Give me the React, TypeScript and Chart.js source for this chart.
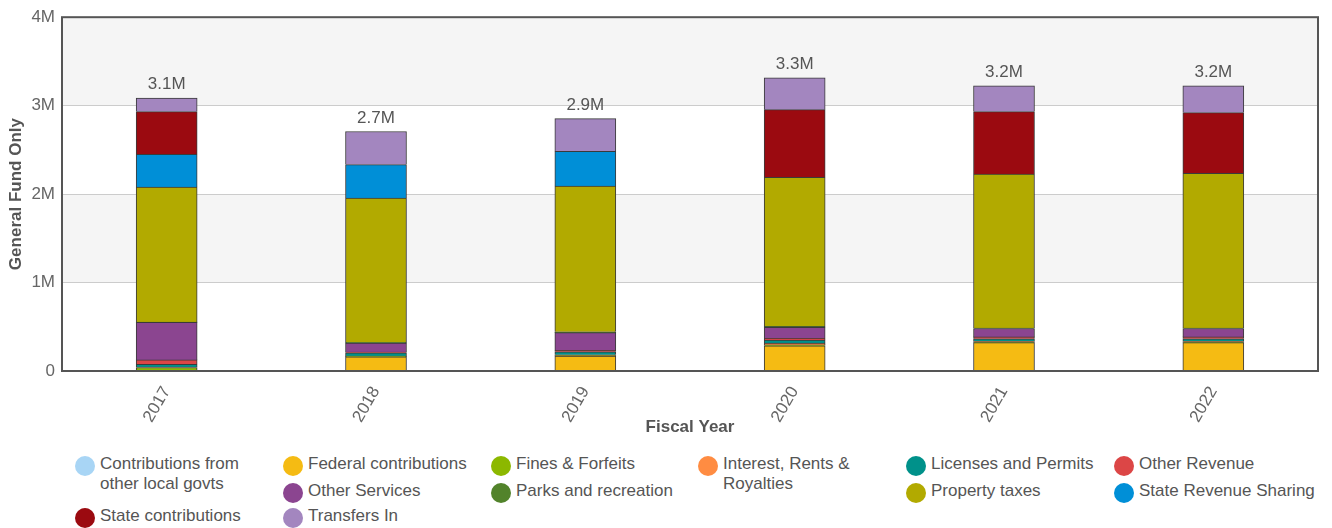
import React, { useEffect, useRef } from "react";
import { Chart, registerables } from "chart.js";

Chart.register(...registerables);

// ---------- DATA ----------
const years = ["2017", "2018", "2019", "2020", "2021", "2022"];

const contribLocal = [0, 0, 0, 0, 0, 0];
const federal = [0, 160000, 168000, 285000, 320000, 320000];
const fines = [40000, 5000, 5000, 10000, 10000, 10000];
const interest = [5000, 5000, 10000, 20000, 5000, 5000];
const licenses = [30000, 35000, 35000, 35000, 30000, 30000];
const otherRevenue = [50000, 10000, 15000, 20000, 20000, 20000];
const otherServices = [424000, 100000, 200000, 125000, 95000, 95000];
const parks = [5000, 10000, 10000, 10000, 5000, 5000];
const propertyTaxes = [1525000, 1630000, 1647000, 1685000, 1740000, 1751000];
const stateRevenueSharing = [371000, 379000, 393000, 0, 0, 0];
const stateContributions = [483000, 0, 0, 765000, 708000, 686000];
const transfersIn = [153000, 374000, 371000, 360000, 292000, 303000];

const seriesNames = [
  "Contributions from other local govts",
  "Federal contributions",
  "Fines & Forfeits",
  "Interest, Rents & Royalties",
  "Licenses and Permits",
  "Other Revenue",
  "Other Services",
  "Parks and recreation",
  "Property taxes",
  "State Revenue Sharing",
  "State contributions",
  "Transfers In",
];
const seriesValues = [
  contribLocal,
  federal,
  fines,
  interest,
  licenses,
  otherRevenue,
  otherServices,
  parks,
  propertyTaxes,
  stateRevenueSharing,
  stateContributions,
  transfersIn,
];
const seriesColors = [
  "#a8d5f5",
  "#f5bb13",
  "#8cb800",
  "#ff8c42",
  "#00918a",
  "#dc4646",
  "#8b4590",
  "#52832b",
  "#b2aa00",
  "#008fd7",
  "#9b0a10",
  "#a386bf",
];

const yTickValues = [0, 1000000, 2000000, 3000000, 4000000];
const yTickLabels = ["0", "1M", "2M", "3M", "4M"];

// ---------- STYLE ----------
const FONT = "'Liberation Sans', Arial, sans-serif";
const FS = 17;
const TEXT = "#555555";

// legend placement (column index, row top in px)
const legendPlacement: [number, number][] = [
  [0, 452],
  [1, 452],
  [2, 452],
  [3, 452],
  [4, 452],
  [5, 452],
  [1, 479],
  [2, 479],
  [4, 479],
  [5, 479],
  [0, 504],
  [1, 504],
];

function wrapLabel(text: string): string[] {
  if (text.length <= 22) return [text];
  const words = text.split(" ");
  const lines: string[] = [];
  let cur = "";
  for (const w of words) {
    const next = cur ? cur + " " + w : w;
    if (next.length > 18 && cur) {
      lines.push(cur);
      cur = w;
    } else cur = next;
  }
  if (cur) lines.push(cur);
  return lines;
}

const bandsPlugin = {
  id: "bands",
  beforeDraw(chart: any) {
    const { ctx, chartArea: a, scales } = chart;
    const y = scales.y;
    ctx.save();
    ctx.fillStyle = "#f5f5f5";
    const bands = [
      [yTickValues[1], yTickValues[2]],
      [yTickValues[3], yTickValues[4]],
    ];
    for (const [lo, hi] of bands) {
      const top = y.getPixelForValue(hi);
      const bot = y.getPixelForValue(lo);
      ctx.fillRect(a.left, top, a.right - a.left, bot - top);
    }
    ctx.restore();
  },
  afterDatasetsDraw(chart: any) {
    const { ctx, chartArea: a, scales } = chart;
    const x = scales.x;
    const y = scales.y;
    ctx.save();
    // totals
    ctx.font = `${FS}px ${FONT}`;
    ctx.fillStyle = TEXT;
    ctx.textAlign = "center";
    ctx.textBaseline = "bottom";
    years.forEach((_, i) => {
      let sum = 0;
      seriesValues.forEach((s) => (sum += s[i]));
      const px = x.getPixelForValue(i);
      const py = y.getPixelForValue(sum);
      ctx.fillText((sum / 1e6).toFixed(1) + "M", px, py - 5);
    });
    // border
    ctx.strokeStyle = "#555555";
    ctx.lineWidth = 2;
    ctx.strokeRect(a.left, a.top, a.right - a.left, a.bottom - a.top);
    ctx.restore();
  },
};

export default function App() {
  const ref = useRef<HTMLCanvasElement | null>(null);

  useEffect(() => {
    if (!ref.current) return;
    const chart = new Chart(ref.current, {
      type: "bar",
      data: {
        labels: years,
        datasets: seriesNames.map((name, k) => ({
          label: name,
          data: seriesValues[k],
          backgroundColor: seriesColors[k],
          borderColor: "#3a3a3a",
          borderWidth: 1,
          barThickness: 61,
        })),
      },
      options: {
        animation: false,
        responsive: false,
        maintainAspectRatio: false,
        layout: { padding: { left: 2, right: 14, top: 14, bottom: 2 } },
        plugins: {
          legend: { display: false },
          tooltip: { enabled: false },
        },
        scales: {
          x: {
            stacked: true,
            grid: { display: false },
            border: { display: false },
            ticks: {
              color: "#666666",
              font: { family: FONT, size: FS },
              minRotation: 60,
              maxRotation: 60,
              padding: 4,
            },
            title: {
              display: true,
              text: "Fiscal Year",
              color: TEXT,
              font: { family: FONT, size: FS, weight: "bold" },
              padding: { top: 0, bottom: 0 },
            },
            afterFit: (s: any) => {
              s.height = 67;
            },
          },
          y: {
            stacked: true,
            min: 0,
            max: 4000000,
            grid: { color: "#cccccc", drawTicks: false },
            border: { display: false },
            ticks: {
              stepSize: 1000000,
              color: "#666666",
              font: { family: FONT, size: FS },
              padding: 7,
              callback: (v: any) => {
                const idx = yTickValues.indexOf(Number(v));
                return idx >= 0 ? yTickLabels[idx] : "";
              },
            },
            title: {
              display: true,
              text: "General Fund Only",
              color: TEXT,
              font: { family: FONT, size: FS, weight: "bold" },
              padding: { top: 4, bottom: 0 },
            },
            afterFit: (s: any) => {
              s.width = 60;
            },
          },
        },
      },
      plugins: [bandsPlugin],
    });
    return () => chart.destroy();
  }, []);

  const colLeft = [75, 283, 491, 698, 906, 1114];

  return (
    <div
      style={{
        position: "absolute",
        left: 0,
        top: 0,
        width: 1332,
        height: 528,
        overflow: "hidden",
        background: "#ffffff",
        fontFamily: FONT,
      }}
    >
      <canvas
        ref={ref}
        width={1332}
        height={440}
        style={{ position: "absolute", left: 0, top: 0, width: 1332, height: 440 }}
      />
      {seriesNames.map((name, k) => {
        const [col, top] = legendPlacement[k];
        return (
          <div
            key={name}
            style={{
              position: "absolute",
              left: colLeft[col],
              top,
              display: "flex",
              alignItems: "flex-start",
              whiteSpace: "nowrap",
            }}
          >
            <span
              style={{
                width: 20,
                height: 20,
                borderRadius: "50%",
                background: seriesColors[k],
                marginTop: 4,
                marginRight: 5,
                flex: "0 0 auto",
              }}
            />
            <span style={{ fontSize: FS, lineHeight: "20px", color: TEXT, marginTop: 2 }}>
              {wrapLabel(name).map((l, i) => (
                <div key={i}>{l}</div>
              ))}
            </span>
          </div>
        );
      })}
    </div>
  );
}
